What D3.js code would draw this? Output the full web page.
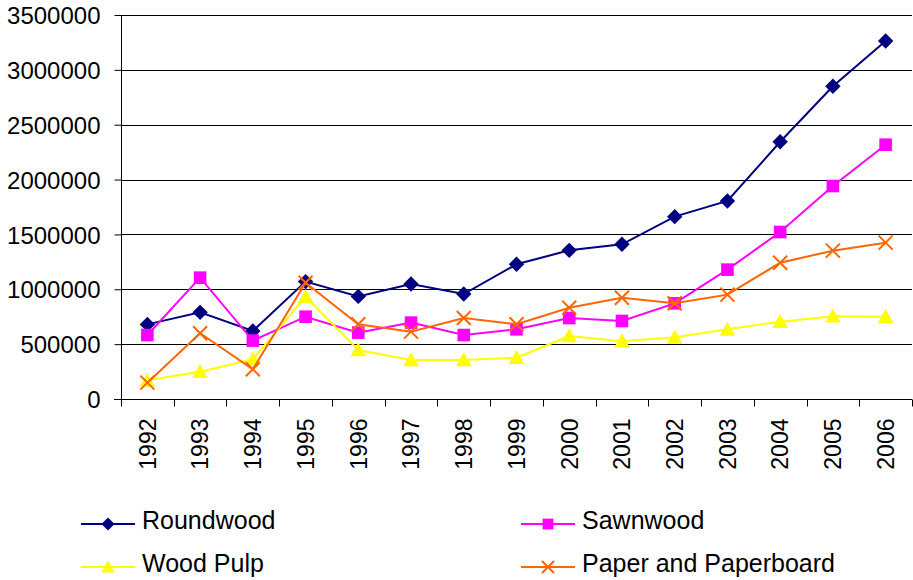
<!DOCTYPE html>
<html>
<head>
<meta charset="utf-8">
<script src="https://cdn.jsdelivr.net/npm/d3@7"></script>
<style>
  html, body { margin: 0; padding: 0; background: #fff; }
  svg text { font-family: "Liberation Sans", Arial, sans-serif; fill: #000; }
</style>
</head>
<body>
<svg id="chart" width="913" height="580"></svg>
<script>
// Forest product volumes by year
const years = ["1992","1993","1994","1995","1996","1997","1998","1999","2000","2001","2002","2003","2004","2005","2006"];
const roundwood = [680000, 790000, 620000, 1070000, 935000, 1048000, 957000, 1228000, 1355000, 1410000, 1662000, 1805000, 2345000, 2850000, 3263000];
const sawnwood  = [583000, 1106000, 532000, 750000, 605000, 696000, 583000, 635000, 738000, 711000, 872000, 1179000, 1522000, 1941000, 2318000];
const woodPulp  = [170000, 249000, 362000, 933000, 447000, 355000, 355000, 377000, 574000, 526000, 562000, 635000, 705000, 754000, 750000];
const paper     = [149000, 599000, 271000, 1060000, 681000, 614000, 738000, 681000, 832000, 923000, 872000, 951000, 1242000, 1352000, 1425000];
const yTicks = [0, 500000, 1000000, 1500000, 2000000, 2500000, 3000000, 3500000];

const seriesNames = ["Roundwood", "Sawnwood", "Wood Pulp", "Paper and Paperboard"];
const seriesColors = ["#000080", "#FF00FF", "#FFFF00", "#FF6600"];
const seriesShapes = ["diamond", "square", "triangle", "cross"];
const seriesValues = [roundwood, sawnwood, woodPulp, paper];

const svg = d3.select("#chart");
const plotLeft = 121, plotRight = 912, plotTop = 15, plotBottom = 399;

const x = d3.scaleBand().domain(years).range([plotLeft, plotRight]);
const y = d3.scaleLinear().domain([0, 3500000]).range([plotBottom, plotTop]);

// horizontal gridlines
svg.append("g").selectAll("line").data(yTicks).join("line")
  .attr("x1", plotLeft).attr("x2", plotRight)
  .attr("y1", d => Math.round(y(d)) + 0.5).attr("y2", d => Math.round(y(d)) + 0.5)
  .attr("stroke", "#000").attr("stroke-width", 1);

// y axis
const yAxis = svg.append("g").attr("transform", `translate(${plotLeft + 0.5},0)`)
  .call(d3.axisLeft(y).tickValues(yTicks).tickSize(7).tickPadding(14).tickFormat(d3.format("d")));
yAxis.select(".domain").attr("stroke", "#000").attr("d", `M0,${plotTop}V${plotBottom + 7}`);
yAxis.selectAll(".tick line").attr("stroke", "#000");
yAxis.selectAll(".tick text").attr("font-size", 24).attr("dy", "0.36em")
  .style("font-family", "'Liberation Sans', Arial, sans-serif");

// x axis: ticks at category boundaries
const xAxisG = svg.append("g").attr("transform", `translate(0,${plotBottom + 0.5})`);
xAxisG.append("line").attr("x1", plotLeft - 7).attr("x2", plotRight).attr("y1", 0).attr("y2", 0).attr("stroke", "#000");
const boundaries = years.map(d => x(d)).concat([plotRight]);
xAxisG.selectAll("line.tk").data(boundaries).join("line").attr("class", "tk")
  .attr("x1", d => Math.round(d) + 0.5).attr("x2", d => Math.round(d) + 0.5)
  .attr("y1", 0).attr("y2", 7).attr("stroke", "#000");
xAxisG.selectAll("text").data(years).join("text")
  .attr("transform", d => `translate(${x(d) + x.bandwidth() / 2},${19}) rotate(-90)`)
  .attr("text-anchor", "end").attr("dy", "0.36em")
  .attr("font-size", 23)
  .text(d => d);

// marker drawing
function drawMarker(g, shape, color, size) {
  const s = size;
  if (shape === "diamond") {
    g.append("path").attr("d", `M0,${-s * 0.55}L${s * 0.55},0L0,${s * 0.55}L${-s * 0.55},0Z`).attr("fill", color);
  } else if (shape === "square") {
    g.append("rect").attr("x", -s * 0.45).attr("y", -s * 0.45).attr("width", s * 0.9).attr("height", s * 0.9).attr("fill", color);
  } else if (shape === "triangle") {
    g.append("path").attr("d", `M0,${-s * 0.55}L${s * 0.55},${s * 0.45}L${-s * 0.55},${s * 0.45}Z`).attr("fill", color);
  } else {
    const h = s * 0.5;
    g.append("path").attr("d", `M${-h},${-h}L${h},${h}M${-h},${h}L${h},${-h}`)
      .attr("stroke", color).attr("stroke-width", 2).attr("fill", "none");
  }
}

const line = d3.line().x((d, i) => x(years[i]) + x.bandwidth() / 2).y(d => y(d));

seriesValues.forEach((vals, si) => {
  const g = svg.append("g");
  g.append("path").datum(vals).attr("d", line)
    .attr("fill", "none").attr("stroke", seriesColors[si]).attr("stroke-width", 2);
  vals.forEach((v, i) => {
    const m = g.append("g").attr("transform", `translate(${x(years[i]) + x.bandwidth() / 2},${y(v)})`);
    drawMarker(m, seriesShapes[si], seriesColors[si], 14);
  });
});

// legend: two rows, two columns
const legendPos = [[81, 524], [521, 524], [81, 567], [521, 567]];
seriesNames.forEach((name, si) => {
  const [lx, ly] = legendPos[si];
  const g = svg.append("g").attr("transform", `translate(${lx},${ly})`);
  g.append("line").attr("x1", 0).attr("x2", 54).attr("y1", 0).attr("y2", 0)
    .attr("stroke", seriesColors[si]).attr("stroke-width", 2);
  const m = g.append("g").attr("transform", "translate(27,0)");
  drawMarker(m, seriesShapes[si], seriesColors[si], 12);
  g.append("text").attr("x", 61).attr("y", -4).attr("dy", "0.36em")
    .attr("font-size", 25).text(name);
});
</script>
</body>
</html>
